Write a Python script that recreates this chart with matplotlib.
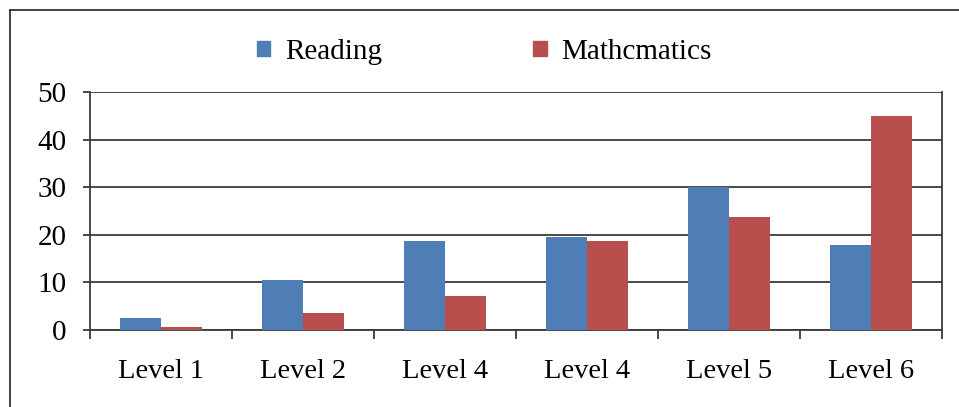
import numpy as np
import matplotlib
matplotlib.use("Agg")
from matplotlib import pyplot as plt
from matplotlib.lines import Line2D
from matplotlib.patches import Patch

# values
levels = ["Level 1", "Level 2", "Level 4", "Level 4", "Level 5", "Level 6"]
reading = [2.5, 10.5, 18.7, 19.6, 30.1, 17.9]
maths = [0.6, 3.5, 7.1, 18.7, 23.8, 45.0]
series_names = ["Reading", "Mathcmatics"]

blue = "#4f7db6"
red = "#b84f4d"

plt.rcParams["font.family"] = ["Liberation Serif", "DejaVu Serif"]

fig = plt.figure(figsize=(9.59, 4.07), dpi=100)
W, H = 959, 407
ax = fig.add_axes([90 / W, 1 - 330 / H, 852 / W, 238 / H])

x = np.arange(len(levels))
bw = 0.29
ax.bar(x - bw / 2, reading, bw, color=blue, zorder=3)
ax.bar(x + bw / 2, maths, bw, color=red, zorder=3)

ax.set_xlim(-0.5, len(levels) - 0.5)
ax.set_ylim(0, 50)
ax.set_yticks([0, 10, 20, 30, 40, 50])
ax.yaxis.grid(True, color="#3a3a3a", lw=1.3, zorder=0)

# category labels centred, tick marks on category boundaries
ax.set_xticks(x)
ax.set_xticklabels(levels)
ax.set_xticks(np.arange(-0.5, len(levels)), minor=True)
ax.tick_params(axis="x", which="major", length=0, labelsize=20.5, pad=21)
ax.tick_params(axis="x", which="minor", length=6.5, width=1.3, color="#3a3a3a")
ax.tick_params(axis="y", length=5, width=1.3, color="#3a3a3a", labelsize=21, pad=12)

for side in ["left", "right", "bottom"]:
    ax.spines[side].set_color("#3a3a3a")
    ax.spines[side].set_linewidth(1.3)
ax.spines["top"].set_visible(False)

handles = [Patch(color=blue), Patch(color=red)]
fig.legend(handles, series_names, loc="center left", bbox_to_anchor=(257 / W, 1 - 52 / H),
           ncol=2, frameon=False, fontsize=21, handlelength=0.45, handleheight=0.45,
           columnspacing=5.2, handletextpad=0.5, borderaxespad=0, borderpad=0)

# outer frame of the original figure
fig.add_artist(Line2D([10 / W, 10 / W], [0, 1 - 10 / H], transform=fig.transFigure,
                      color="#222222", lw=1.2))
fig.add_artist(Line2D([10 / W, 1], [1 - 10 / H, 1 - 10 / H], transform=fig.transFigure,
                      color="#222222", lw=1.2))

fig.savefig("out.png", dpi=100)
